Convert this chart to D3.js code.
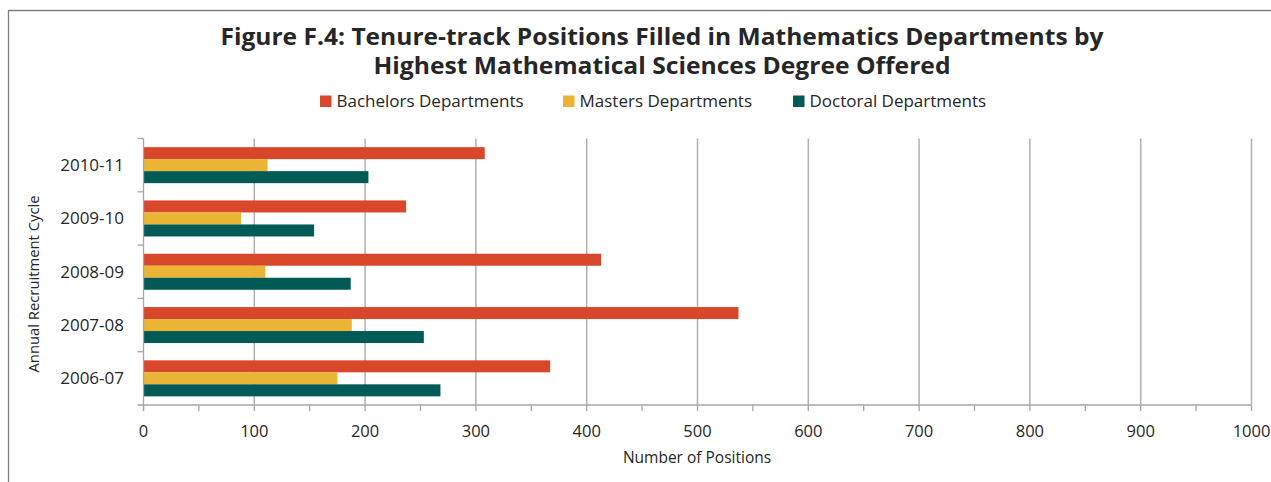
<!DOCTYPE html>
<html>
<head>
<meta charset="utf-8">
<script src="https://cdn.jsdelivr.net/npm/d3@7"></script>
<style>
  body { margin: 0; background: #fff; }
  text { font-family: "Open Sans", "Noto Sans", sans-serif; fill: #262626; }
</style>
</head>
<body>
<div id="chart"></div>
<script>
'use strict';

var cycles = ["2006-07", "2007-08", "2008-09", "2009-10", "2010-11"];
var seriesNames = ["Bachelors Departments", "Masters Departments", "Doctoral Departments"];
var bachelors = [367, 537, 413, 237, 308];
var masters = [175, 188, 110, 88, 112];
var doctoral = [268, 253, 187, 154, 203];
var xTicks = [0, 100, 200, 300, 400, 500, 600, 700, 800, 900, 1000];
var colors = ["#d9472a", "#ebb434", "#005a55"];

var width = 1271, height = 482;
var margin = { top: 138.5, left: 143.5, right: 19.5, bottom: 77 };

var data = cycles.map(function(c, i) {
  return { cycle: c, values: [bachelors[i], masters[i], doctoral[i]] };
});

var svg = d3.select("#chart").append("svg")
  .attr("width", width)
  .attr("height", height);

// outer frame (left + top visible)
svg.append("path")
  .attr("d", "M8.5," + height + "V10.5H" + width)
  .attr("fill", "none")
  .attr("stroke", "#7f7f7f")
  .attr("stroke-width", 1.3);

var x = d3.scaleLinear().domain([0, 1000]).range([margin.left, width - margin.right]);
var y = d3.scaleBand().domain(cycles.slice().reverse()).range([margin.top, height - margin.bottom]);
var yInner = d3.scaleBand().domain(d3.range(3)).range([0, y.bandwidth()]).paddingInner(0).paddingOuter(0.72);

// gridlines
svg.append("g").selectAll("line")
  .data(xTicks.slice(1))
  .enter().append("line")
  .attr("x1", function(d) { return x(d); })
  .attr("x2", function(d) { return x(d); })
  .attr("y1", margin.top)
  .attr("y2", height - margin.bottom)
  .attr("stroke", "#b0b0b0")
  .attr("stroke-width", 1.5);

// bars
var groups = svg.append("g").selectAll("g")
  .data(data)
  .enter().append("g")
  .attr("transform", function(d) { return "translate(0," + y(d.cycle) + ")"; });

groups.selectAll("rect")
  .data(function(d) { return d.values; })
  .enter().append("rect")
  .attr("x", x(0))
  .attr("y", function(d, i) { return yInner(i); })
  .attr("width", function(d) { return x(d) - x(0); })
  .attr("height", yInner.bandwidth())
  .attr("fill", function(d, i) { return colors[i]; });

// x axis
var xAxis = svg.append("g")
  .attr("transform", "translate(0," + (height - margin.bottom) + ")");

xAxis.append("line")
  .attr("x1", x(0) - 6).attr("x2", x(1000))
  .attr("stroke", "#a6a6a6").attr("stroke-width", 1.3);

xAxis.selectAll(".tick")
  .data(d3.range(0, 1001, 50))
  .enter().append("line")
  .attr("x1", function(d) { return x(d); })
  .attr("x2", function(d) { return x(d); })
  .attr("y1", 0)
  .attr("y2", 6)
  .attr("stroke", "#a6a6a6").attr("stroke-width", 1.3);

xAxis.selectAll("text")
  .data(xTicks)
  .enter().append("text")
  .attr("x", function(d) { return x(d); })
  .attr("y", 32)
  .attr("text-anchor", "middle")
  .style("font-size", "16.5px")
  .text(function(d) { return d; });

// y axis
var yAxis = svg.append("g");
yAxis.append("line")
  .attr("x1", x(0)).attr("x2", x(0))
  .attr("y1", margin.top).attr("y2", height - margin.bottom + 6)
  .attr("stroke", "#a6a6a6").attr("stroke-width", 1.3);

yAxis.selectAll(".tick")
  .data(cycles)
  .enter().append("line")
  .attr("x1", x(0) - 6).attr("x2", x(0))
  .attr("y1", function(d) { return y(d); })
  .attr("y2", function(d) { return y(d); })
  .attr("stroke", "#a6a6a6").attr("stroke-width", 1.3);

yAxis.selectAll("text")
  .data(cycles)
  .enter().append("text")
  .attr("x", 124)
  .attr("y", function(d) { return y(d) + y.bandwidth() / 2 + 6; })
  .attr("text-anchor", "end")
  .style("font-size", "17px")
  .text(function(d) { return d; });

// axis titles
svg.append("text")
  .attr("x", 697)
  .attr("y", 463)
  .attr("text-anchor", "middle")
  .style("font-size", "15.5px")
  .text("Number of Positions");

svg.append("text")
  .attr("transform", "translate(39,284) rotate(-90)")
  .attr("text-anchor", "middle")
  .style("font-size", "14.8px")
  .text("Annual Recruitment Cycle");

// title
var title = svg.append("text")
  .attr("text-anchor", "middle")
  .style("font-size", "23px")
  .style("font-weight", "bold");
title.append("tspan").attr("x", 662).attr("y", 45)
  .attr("textLength", 883).attr("lengthAdjust", "spacingAndGlyphs")
  .text("Figure F.4: Tenure-track Positions Filled in Mathematics Departments by");
title.append("tspan").attr("x", 662).attr("y", 74)
  .attr("textLength", 577).attr("lengthAdjust", "spacingAndGlyphs")
  .text("Highest Mathematical Sciences Degree Offered");

// legend
var legendX = [320, 563, 793];
var legend = svg.append("g").selectAll("g")
  .data(seriesNames)
  .enter().append("g")
  .attr("transform", function(d, i) { return "translate(" + legendX[i] + ",95.5)"; });

legend.append("rect")
  .attr("width", 11.5).attr("height", 11.5)
  .attr("fill", function(d, i) { return colors[i]; });

legend.append("text")
  .attr("x", 16.5)
  .attr("y", 11.5)
  .style("font-size", "17px")
  .text(function(d) { return d; });
</script>
</body>
</html>
